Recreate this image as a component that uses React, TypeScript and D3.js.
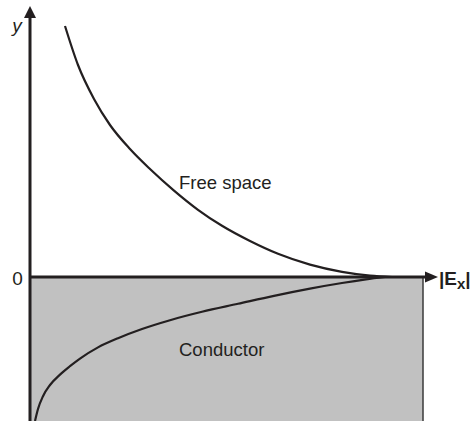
import React from "react";
import * as d3 from "d3";

// |E| magnitude (arbitrary units) vs. height y; y > 0 is free space, y < 0 is inside the conductor
const freeSpaceE = [8.75, 12, 16, 20, 25, 30, 36, 42, 48, 55, 62, 70, 78, 85, 90.5];
const freeSpaceY = [62.75, 53, 44.5, 38, 32, 27, 21.6, 16.8, 12.8, 9, 5.8, 3.1, 1.3, 0.35, 0];

const conductorE = [1.25, 2, 3.25, 5, 7.5, 10, 12.5, 17, 22, 28, 35, 43, 52, 61, 70, 78, 84, 88.75];
const conductorY = [-36, -33, -29.8, -27, -24.4, -22.3, -20.4, -17.6, -15.3, -13.0, -10.8, -8.7, -6.7, -4.7, -2.9, -1.5, -0.6, 0];

const regionLabels = ["Free space", "Conductor"];

const W = 471;
const H = 421;
const INK = "#231f20";

export default function App() {
  const x = d3.scaleLinear().domain([0, 100]).range([30, 430]);
  const y = d3.scaleLinear().domain([0, 64]).range([277, 21]);

  const line = d3
    .line<[number, number]>()
    .x((d) => x(d[0]))
    .y((d) => y(d[1]))
    .curve(d3.curveMonotoneX);

  const upper = line(freeSpaceE.map((e, i) => [e, freeSpaceY[i]] as [number, number])) || "";
  const lower = line(conductorE.map((e, i) => [e, conductorY[i]] as [number, number])) || "";

  const x0 = x(0);
  const y0 = y(0);
  const rectRight = x(98.25);
  const yBottom = y(-37);

  return (
    <svg
      width={W}
      height={H}
      style={{ position: "absolute", left: 0, top: 0, background: "#fff" }}
      fontFamily="Liberation Sans, Arial, sans-serif"
    >
      {/* conductor region */}
      <rect x={x0} y={y0} width={rectRight - x0} height={yBottom - y0} fill="#c1c1c1" />
      <line x1={rectRight} y1={y0} x2={rectRight} y2={yBottom} stroke="#3a3a3a" strokeWidth={1.5} />

      {/* field curves */}
      <path d={upper} fill="none" stroke={INK} strokeWidth={2.2} />
      <path d={lower} fill="none" stroke={INK} strokeWidth={2.2} />

      {/* axes */}
      <line x1={x0} y1={H} x2={x0} y2={16} stroke={INK} strokeWidth={3} />
      <path d={`M${x0},6 L${x0 + 6},18 L${x0 - 6},18 Z`} fill={INK} />
      <line x1={x0} y1={y0} x2={426} y2={y0} stroke={INK} strokeWidth={3} />
      <path d={`M438,${y0} L425,${y0 - 5.5} L425,${y0 + 5.5} Z`} fill={INK} />

      {/* axis labels */}
      <text x={17} y={32} fontSize={19} fontStyle="italic" textAnchor="middle" fill={INK}>
        y
      </text>
      <text x={17.5} y={285} fontSize={19} textAnchor="middle" fill={INK}>
        0
      </text>
      <text x={439} y={285} fontSize={19} fontWeight="bold" fill={INK}>
        |E
        <tspan fontSize={15} dy={4}>x</tspan>
        <tspan dy={-4}>|</tspan>
      </text>

      {/* region labels */}
      <text x={179} y={189} fontSize={18.5} fill={INK}>
        {regionLabels[0]}
      </text>
      <text x={179} y={356} fontSize={18.5} fill={INK}>
        {regionLabels[1]}
      </text>
    </svg>
  );
}
